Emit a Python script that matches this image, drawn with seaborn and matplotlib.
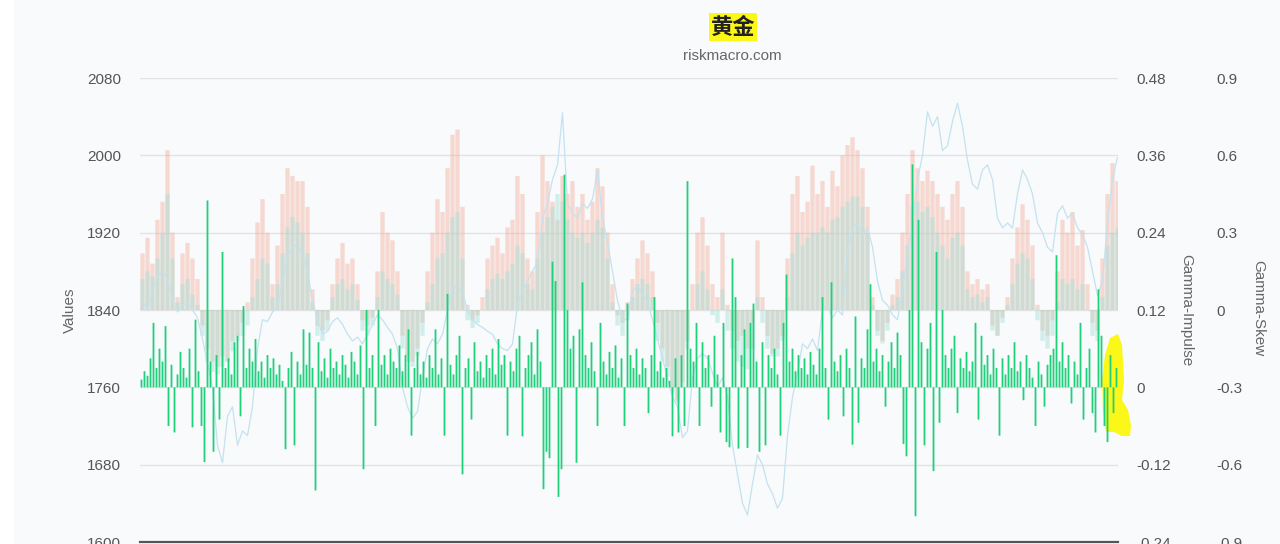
import numpy as np
import matplotlib
matplotlib.use("Agg")
import matplotlib.pyplot as plt
from matplotlib.patches import Polygon, Rectangle
import seaborn as sns

# Gamma-Skew, two overlaid bar series (salmon + teal), one value per 5 steps
skew_red = [
    0.22, 0.28, 0.18, 0.35, 0.42, 0.62, 0.30, 0.05, 0.22, 0.26, 0.20, 0.12, -0.06, -0.15, -0.20, -0.22, -0.18, -0.20, -0.12, -0.10,
    -0.05, 0.03, 0.20, 0.34, 0.43, 0.30, 0.10, 0.25, 0.45, 0.55, 0.52, 0.50, 0.50, 0.40, 0.08, -0.06, -0.08, -0.04, 0.10, 0.20,
    0.26, 0.18, 0.20, 0.10, -0.04, -0.06, -0.03, 0.15, 0.38, 0.30, 0.27, 0.15, -0.10, -0.18, -0.20, -0.15, -0.05, 0.15, 0.30, 0.43,
    0.38, 0.55, 0.68, 0.70, 0.40, 0.02, -0.04, -0.02, 0.05, 0.20, 0.25, 0.28, 0.22, 0.32, 0.35, 0.52, 0.45, 0.20, 0.15, 0.38,
    0.60, 0.50, 0.42, 0.35, 0.52, 0.45, 0.50, 0.40, 0.45, 0.35, 0.42, 0.55, 0.48, 0.30, 0.10, -0.02, -0.05, 0.03, 0.12, 0.20,
    0.27, 0.22, 0.15, -0.05, -0.15, -0.22, -0.30, -0.35, -0.28, -0.12, 0.10, 0.30, 0.36, 0.25, 0.10, 0.05, 0.30, 0.02, -0.08, -0.12,
    -0.10, -0.15, -0.05, 0.27, 0.05, -0.10, -0.17, -0.15, -0.10, 0.20, 0.45, 0.52, 0.38, 0.42, 0.56, 0.45, 0.50, 0.40, 0.54, 0.48,
    0.60, 0.64, 0.67, 0.62, 0.55, 0.40, 0.05, -0.08, -0.12, -0.05, 0.06, 0.12, 0.30, 0.45, 0.62, 0.55, 0.50, 0.54, 0.50, 0.45,
    0.40, 0.35, 0.45, 0.50, 0.40, 0.15, 0.10, 0.12, 0.08, 0.10, -0.06, -0.10, -0.03, 0.05, 0.20, 0.32, 0.41, 0.35, 0.25, 0.02,
    -0.08, -0.10, -0.04, 0.15, 0.35, 0.30, 0.38, 0.25, 0.31, 0.10, -0.05, -0.08, 0.20, 0.45, 0.57, 0.50,
]
skew_teal = [
    0.12, 0.15, 0.13, 0.20, 0.30, 0.45, 0.20, 0.03, 0.10, 0.12, 0.06, 0.02, -0.10, -0.20, -0.24, -0.25, -0.22, -0.20, -0.16, -0.12,
    -0.10, -0.06, 0.05, 0.12, 0.20, 0.18, 0.05, 0.10, 0.22, 0.32, 0.36, 0.34, 0.30, 0.22, 0.03, -0.10, -0.12, -0.08, 0.05, 0.10,
    0.12, 0.08, 0.10, 0.04, -0.08, -0.10, -0.06, 0.05, 0.15, 0.12, 0.10, 0.06, -0.15, -0.20, -0.22, -0.18, -0.10, 0.03, 0.10, 0.20,
    0.22, 0.30, 0.36, 0.38, 0.20, -0.04, -0.07, -0.05, 0.00, 0.08, 0.12, 0.14, 0.12, 0.15, 0.18, 0.25, 0.22, 0.10, 0.08, 0.20,
    0.30, 0.36, 0.40, 0.45, 0.42, 0.35, 0.30, 0.28, 0.30, 0.26, 0.30, 0.35, 0.32, 0.20, 0.03, -0.06, -0.10, -0.04, 0.05, 0.10,
    0.12, 0.10, 0.05, -0.12, -0.20, -0.26, -0.32, -0.36, -0.30, -0.15, 0.00, 0.10, 0.15, 0.08, -0.02, -0.05, 0.08, -0.08, -0.15, -0.20,
    -0.22, -0.23, -0.15, 0.05, -0.05, -0.15, -0.18, -0.18, -0.12, 0.05, 0.22, 0.30, 0.25, 0.28, 0.30, 0.30, 0.32, 0.30, 0.35, 0.36,
    0.40, 0.42, 0.44, 0.44, 0.40, 0.30, 0.02, -0.10, -0.13, -0.08, 0.02, 0.05, 0.15, 0.25, 0.40, 0.42, 0.38, 0.40, 0.36, 0.30,
    0.25, 0.20, 0.28, 0.30, 0.25, 0.08, 0.05, 0.06, 0.03, 0.05, -0.08, -0.10, -0.05, 0.02, 0.10, 0.18, 0.22, 0.20, 0.12, -0.04,
    -0.12, -0.15, -0.10, 0.03, 0.12, 0.10, 0.12, 0.08, 0.10, 0.00, -0.10, -0.12, 0.05, 0.25, 0.30, 0.32,
]
# price (Values axis)
price = [
    1850, 1840, 1860, 1875, 1880, 1872, 1850, 1838, 1845, 1848, 1840, 1832, 1810, 1785, 1760, 1700, 1682, 1730, 1740, 1700,
    1715, 1710, 1740, 1800, 1830, 1828, 1838, 1842, 1870, 1895, 1905, 1908, 1898, 1880, 1850, 1830, 1815, 1818, 1828, 1832,
    1825, 1815, 1808, 1812, 1805, 1815, 1825, 1835, 1830, 1822, 1815, 1800, 1760, 1740, 1728, 1735, 1770, 1800, 1810, 1805,
    1815, 1840, 1862, 1865, 1858, 1840, 1830, 1825, 1822, 1818, 1815, 1805, 1800, 1798, 1805, 1845, 1860, 1870, 1880, 1890,
    1935, 1950, 1975, 1990, 2044, 1950, 1940, 1935, 1950, 1945, 1955, 1985, 1935, 1910, 1880, 1850, 1830, 1830, 1860, 1865,
    1855, 1848, 1830, 1810, 1790, 1770, 1750, 1740, 1708, 1715, 1770, 1790, 1795, 1790, 1775, 1760, 1770, 1750, 1700, 1670,
    1640, 1628, 1660, 1690, 1680, 1660, 1650, 1635, 1645, 1710, 1750, 1775, 1805, 1800, 1810, 1798, 1840, 1845, 1832, 1840,
    1835, 1900, 1925, 1930, 1918, 1925, 1905, 1870, 1850, 1845, 1835, 1830, 1860, 1900, 1930, 1975, 2000, 2045, 2030, 2040,
    2005, 2010, 2035, 2054, 2030, 1995, 1970, 1965, 1985, 1990, 1975, 1935, 1925, 1930, 1925, 1960, 1985, 1975, 1960, 1930,
    1920, 1905, 1900, 1940, 1948, 1935, 1940, 1925, 1918, 1905, 1880, 1855, 1870, 1930, 1975, 1998,
]
# Gamma-Impulse, one value per 3 steps
impulse = [
    0.012, 0.025, 0.018, 0.045, 0.10, 0.03, 0.06, 0.04, 0.095, -0.06, 0.035, -0.07, 0.02, 0.055, 0.03, 0.015, 0.06, -0.062, 0.105, 0.025, -0.06, -0.116, 0.29, 0.04, -0.10,
    0.05, -0.05, 0.21, 0.03, 0.045, 0.02, 0.07, 0.08, -0.045, 0.126, 0.03, 0.06, 0.04, 0.075, 0.025, 0.04, 0.015, 0.05, 0.03, 0.045, 0.02, 0.035, 0.01, -0.096, 0.03,
    0.055, -0.09, 0.04, 0.02, 0.09, 0.035, 0.085, 0.03, -0.16, 0.07, 0.025, 0.045, 0.015, 0.06, 0.03, 0.04, 0.02, 0.05, 0.035, 0.015, 0.055, 0.04, 0.02, 0.065, -0.127,
    0.12, 0.03, 0.05, -0.06, 0.12, 0.035, 0.05, 0.02, 0.06, 0.04, 0.03, 0.065, 0.025, 0.05, 0.09, -0.075, 0.03, 0.055, 0.02, 0.04, 0.015, 0.05, 0.03, 0.09, 0.02,
    0.045, -0.075, 0.145, 0.035, 0.02, 0.05, 0.08, -0.135, 0.03, 0.045, -0.05, 0.07, 0.025, 0.04, 0.015, 0.05, 0.03, 0.06, 0.02, 0.075, 0.035, 0.05, -0.075, 0.04, 0.025,
    0.06, 0.08, -0.076, 0.03, 0.05, 0.07, 0.02, 0.09, 0.04, -0.158, -0.10, -0.11, 0.195, 0.165, -0.17, -0.127, 0.33, 0.12, 0.06, 0.08, -0.117, 0.09, 0.163, 0.05, 0.03,
    0.07, 0.025, -0.06, 0.10, 0.04, 0.02, 0.055, 0.03, 0.065, 0.015, 0.045, -0.06, 0.13, 0.05, 0.03, 0.06, 0.02, 0.045, 0.03, -0.04, 0.05, 0.14, 0.025, 0.04, 0.015,
    0.03, 0.01, -0.076, 0.045, -0.07, 0.05, -0.06, 0.32, 0.06, 0.04, 0.10, -0.06, 0.07, 0.03, 0.05, -0.03, 0.08, 0.02, -0.07, 0.10, -0.085, -0.093, 0.20, 0.14, -0.095,
    0.05, 0.09, -0.094, 0.10, 0.13, 0.04, -0.10, 0.07, -0.09, 0.05, 0.03, 0.06, 0.02, -0.075, 0.10, 0.175, 0.04, 0.06, 0.025, 0.05, 0.03, 0.045, 0.02, 0.055, 0.035,
    0.02, 0.06, 0.14, 0.03, -0.05, 0.163, 0.04, 0.025, 0.05, -0.045, 0.06, 0.03, -0.089, 0.11, -0.055, 0.045, 0.03, 0.09, 0.16, 0.04, 0.06, 0.025, 0.05, -0.03, 0.04,
    0.07, 0.03, 0.085, 0.05, -0.088, -0.107, 0.12, 0.346, -0.20, 0.26, 0.07, -0.09, 0.06, 0.10, -0.13, 0.21, -0.055, 0.12, 0.05, 0.03, 0.06, 0.08, -0.04, 0.045, 0.03,
    0.055, 0.025, 0.04, 0.10, -0.05, 0.08, 0.035, 0.05, 0.02, 0.06, 0.03, -0.075, 0.045, 0.02, 0.05, 0.03, 0.07, 0.025, 0.04, -0.02, 0.05, 0.03, 0.015, -0.06, 0.04,
    0.02, -0.03, 0.035, 0.05, 0.06, 0.205, 0.04, 0.07, 0.03, 0.05, -0.025, 0.04, 0.02, 0.10, -0.05, 0.03, 0.06, -0.04, -0.07, 0.152, 0.08, -0.06, -0.085, 0.05, -0.04, 0.03,
]

values_ticks = [1600, 1680, 1760, 1840, 1920, 2000, 2080]
impulse_ticks = ["-0.24", "-0.12", "0", "0.12", "0.24", "0.36", "0.48"]
skew_ticks = ["-0.9", "-0.6", "-0.3", "0", "0.3", "0.6", "0.9"]

BG = "#f8fafc"
W, H = 1280, 544

sns.set_theme(style="white")
plt.rcParams["font.family"] = ["Liberation Sans", "Noto Sans CJK SC", "DejaVu Sans"]

t_skew = np.arange(len(price)) * 5 + 2.5
t_imp = np.arange(len(impulse)) * 3 + 1.5

fig = plt.figure(figsize=(W / 100, H / 100), dpi=100, facecolor=BG)
fig.patches.append(Rectangle((0, 0), 14 / W, 1, transform=fig.transFigure,
                             facecolor="white", edgecolor="none", zorder=-10))

ax = fig.add_axes([140 / W, 2 / H, 978 / W, 464 / H])
ax_skew = ax.twinx()
ax_imp = ax.twinx()
for a in (ax, ax_skew, ax_imp):
    a.patch.set_visible(False)
    for s in a.spines.values():
        s.set_visible(False)
ax_skew.set_zorder(1)
ax.set_zorder(2)
ax_imp.set_zorder(3)

# skew bars
sns.barplot(x=t_skew, y=skew_red, ax=ax_skew, native_scale=True, color="#f4a58f",
            saturation=1, alpha=0.4, errorbar=None, width=0.85,
            linewidth=0, edgecolor="none", snap=False)
sns.barplot(x=t_skew, y=skew_teal, ax=ax_skew, native_scale=True, color="#a2e1d7",
            saturation=1, alpha=0.45, errorbar=None, width=0.85,
            linewidth=0, edgecolor="none", snap=False)

# price line
sns.lineplot(x=t_skew, y=price, ax=ax, color="#c4e2ef", linewidth=0.9)

# impulse bars
sns.barplot(x=t_imp, y=impulse, ax=ax_imp, native_scale=True, color="#1fcf7a",
            saturation=1, errorbar=None, width=0.6, linewidth=0, edgecolor="none",
            snap=False)

ax.set_xlim(0, 978)
ax.set_ylim(1600, 2080)
ax_imp.set_ylim(-0.24, 0.48)
ax_skew.set_ylim(-0.9, 0.9)

ax.set_yticks(values_ticks)
ax.set_yticklabels([str(v) for v in values_ticks])
ax_imp.set_yticks(np.linspace(-0.24, 0.48, len(impulse_ticks)))
ax_imp.set_yticklabels(impulse_ticks)
ax_skew.set_yticks(np.linspace(-0.9, 0.9, len(skew_ticks)))
ax_skew.set_yticklabels(skew_ticks)

ax.yaxis.tick_left()
ax.tick_params(axis="y", length=0, pad=13.5, labelsize=11, labelcolor="#555555")
ax_imp.tick_params(axis="y", length=0, pad=13, labelsize=11, labelcolor="#555555")
ax_skew.spines["right"].set_position(("outward", 57.5))
ax_skew.tick_params(axis="y", length=0, pad=13, labelsize=11, labelcolor="#555555")
for a in (ax, ax_skew, ax_imp):
    a.set_xticks([])
    a.set_xlabel("")
    a.set_ylabel("")

ax_skew.grid(axis="y", color="#e3e3e3", linewidth=1)
ax_skew.set_axisbelow(True)
ax.spines["bottom"].set_visible(True)
ax.spines["bottom"].set_color("#555555")
ax.spines["bottom"].set_linewidth(1.6)

# axis titles
fig.text(70 / W, 1 - 310 / H, "Values", rotation=90, ha="center", va="center",
         fontsize=11, color="#666666")
fig.text(1186 / W, 1 - 310 / H, "Gamma-Impulse", rotation=270, ha="center", va="center",
         fontsize=11, color="#666666")
fig.text(1258 / W, 1 - 308 / H, "Gamma-Skew", rotation=270, ha="center", va="center",
         fontsize=11, color="#666666")

# title + subtitle
fig.text(733 / W, 1 - 27 / H, "黄金", ha="center", va="center", fontsize=16,
         fontweight="bold", family=["Noto Sans CJK SC", "DejaVu Sans"], color="#222222",
         bbox=dict(boxstyle="square,pad=0.1", facecolor="#fbf719", edgecolor="none"))
fig.text(732 / W, 1 - 56 / H, "riskmacro.com", ha="center", va="center",
         fontsize=11, color="#666666")

# yellow marker highlight near the last bars
blob_px = [(1110, 338), (1118, 334), (1122, 345), (1124, 380), (1122, 400), (1128, 410),
           (1131, 425), (1130, 436), (1122, 436), (1114, 432), (1106, 432), (1103, 410),
           (1102, 380), (1105, 355)]
blob = Polygon([(x / W, 1 - y / H) for x, y in blob_px], closed=True,
               transform=fig.transFigure, facecolor="#fbf719", edgecolor="none",
               zorder=5, clip_on=False)
ax.add_patch(blob)

fig.savefig("out.png", dpi=100, facecolor=BG)
